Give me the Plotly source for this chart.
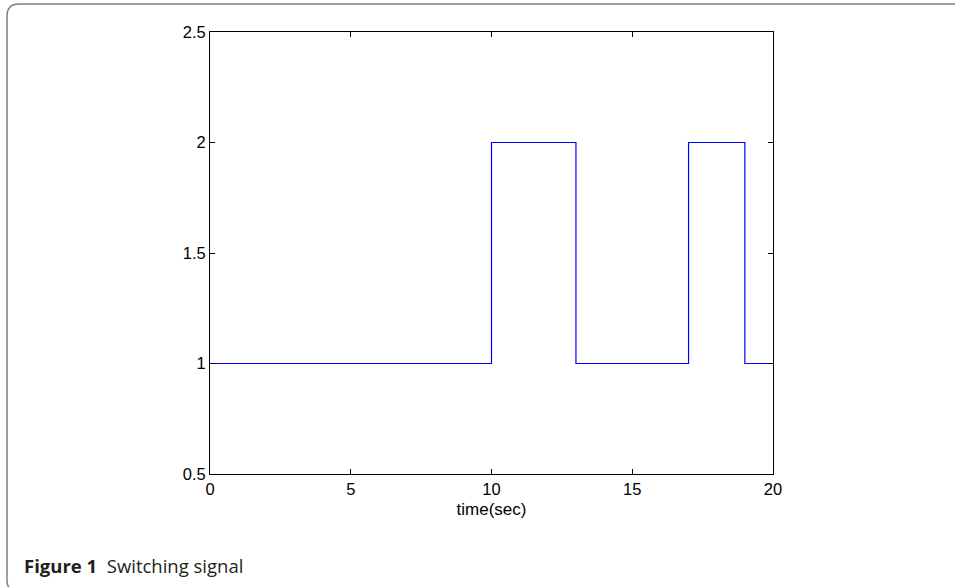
import plotly.graph_objects as go

# step signal data
switch_times = [0, 10, 13, 17, 19, 20]
switch_values = [1, 2, 1, 2, 1, 1]
x_ticks = [0, 5, 10, 15, 20]
y_ticks = [0.5, 1, 1.5, 2, 2.5]
x_title = "time(sec)"
caption_bold = "Figure 1"
caption_text = "Switching signal"

W, H = 955, 587
L, R, T, B = 210, 773, 32, 474

def px(x):
    return (x - L) / (R - L)

def py(y):
    return (B - y) / (B - T)

FONT = "Liberation Sans, Arial, Helvetica"

fig = go.Figure()
fig.add_trace(go.Scatter(x=switch_times, y=switch_values, mode="lines",
                         line=dict(color="#0000ff", width=1.2, shape="hv"),
                         showlegend=False, hoverinfo="skip"))

axis_common = dict(showline=True, linecolor="black", linewidth=1, mirror="ticks",
                   ticks="inside", ticklen=5, tickcolor="black", tickwidth=1,
                   showgrid=False, zeroline=False,
                   tickfont=dict(family=FONT, size=16.5, color="black"))

fig.update_xaxes(range=[0, 20], tickvals=x_ticks, ticktext=[str(v) for v in x_ticks],
                 title=dict(text=x_title, standoff=6,
                            font=dict(family=FONT, size=17, color="black")),
                 **axis_common)
fig.update_yaxes(range=[0.5, 2.5], tickvals=y_ticks, ticktext=[f"{v:g}" for v in y_ticks],
                 **axis_common)

# outer rounded frame
r = 12
bot = 592
path = (f"M {px(1000)},{py(4)} L {px(7 + r)},{py(4)} "
        f"Q {px(7)},{py(4)} {px(7)},{py(4 + r)} "
        f"L {px(7)},{py(bot - r)} Q {px(7)},{py(bot)} {px(7 + r)},{py(bot)} "
        f"L {px(1000)},{py(bot)}")
fig.add_shape(type="path", path=path, xref="paper", yref="paper",
              line=dict(color="#808080", width=1.5), layer="below")

fig.add_annotation(x=px(22), y=py(565), xref="paper", yref="paper",
                   xanchor="left", yanchor="middle", showarrow=False,
                   text=f"<b>{caption_bold}</b>  {caption_text}",
                   font=dict(family="Open Sans, Noto Sans", size=18.5, color="#231f20"))

fig.update_layout(width=W, height=H, margin=dict(l=L, r=W - R, t=T, b=H - B),
                  plot_bgcolor="white", paper_bgcolor="white")

fig.write_html("out.html", config={"displayModeBar": False},
               post_script="document.body.style.margin='0px';document.body.style.padding='0px';")
